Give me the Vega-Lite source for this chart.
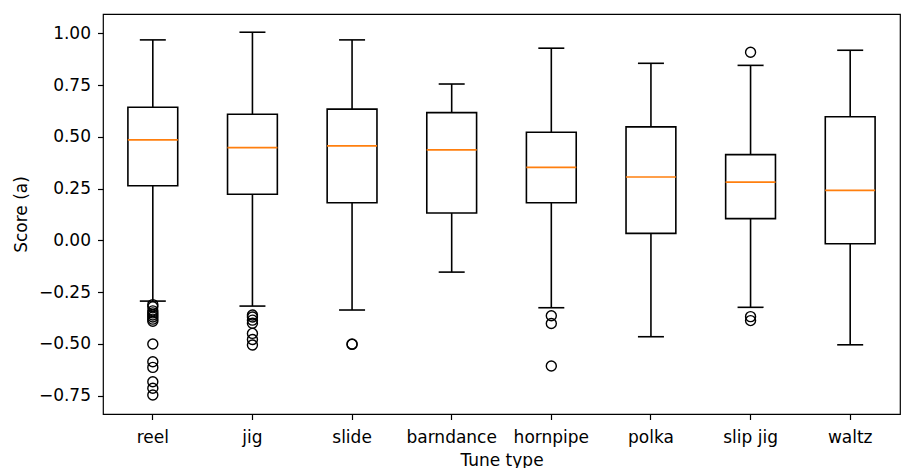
{
  "$schema": "https://vega.github.io/schema/vega-lite/v6.json",
  "width": 797,
  "height": 400,
  "autosize": {"type": "none"},
  "padding": {"left": 103, "top": 14, "right": 1, "bottom": 54},
  "background": "white",
  "config": {
    "font": "DejaVu Sans",
    "view": {"stroke": "black", "strokeWidth": 1.2},
    "axis": {
      "domain": false,
      "grid": false,
      "tickColor": "black",
      "tickSize": 5.5,
      "tickWidth": 1.2,
      "labelColor": "black",
      "labelFont": "DejaVu Sans",
      "labelFontSize": 17,
      "titleColor": "black",
      "titleFont": "DejaVu Sans",
      "titleFontSize": 17,
      "titleFontWeight": "normal"
    }
  },
  "datasets": {
    "summary": [
      {"type": "reel", "lower": -0.293, "q1": 0.264, "median": 0.485, "q3": 0.643, "upper": 0.968},
      {"type": "jig", "lower": -0.317, "q1": 0.223, "median": 0.448, "q3": 0.609, "upper": 1.005},
      {"type": "slide", "lower": -0.336, "q1": 0.182, "median": 0.456, "q3": 0.634, "upper": 0.968},
      {"type": "barndance", "lower": -0.153, "q1": 0.132, "median": 0.437, "q3": 0.617, "upper": 0.755},
      {"type": "hornpipe", "lower": -0.325, "q1": 0.182, "median": 0.353, "q3": 0.522, "upper": 0.928},
      {"type": "polka", "lower": -0.465, "q1": 0.034, "median": 0.306, "q3": 0.548, "upper": 0.855},
      {"type": "slip jig", "lower": -0.323, "q1": 0.105, "median": 0.281, "q3": 0.414, "upper": 0.845},
      {"type": "waltz", "lower": -0.504, "q1": -0.016, "median": 0.242, "q3": 0.597, "upper": 0.918}
    ],
    "outliers": [
      {"type": "reel", "score": -0.31},
      {"type": "reel", "score": -0.32},
      {"type": "reel", "score": -0.34},
      {"type": "reel", "score": -0.35},
      {"type": "reel", "score": -0.36},
      {"type": "reel", "score": -0.37},
      {"type": "reel", "score": -0.38},
      {"type": "reel", "score": -0.39},
      {"type": "reel", "score": -0.50},
      {"type": "reel", "score": -0.586},
      {"type": "reel", "score": -0.613},
      {"type": "reel", "score": -0.682},
      {"type": "reel", "score": -0.714},
      {"type": "reel", "score": -0.746},
      {"type": "jig", "score": -0.36},
      {"type": "jig", "score": -0.37},
      {"type": "jig", "score": -0.385},
      {"type": "jig", "score": -0.40},
      {"type": "jig", "score": -0.449},
      {"type": "jig", "score": -0.478},
      {"type": "jig", "score": -0.505},
      {"type": "slide", "score": -0.50},
      {"type": "slide", "score": -0.502},
      {"type": "hornpipe", "score": -0.364},
      {"type": "hornpipe", "score": -0.401},
      {"type": "hornpipe", "score": -0.606},
      {"type": "slip jig", "score": 0.908},
      {"type": "slip jig", "score": -0.368},
      {"type": "slip jig", "score": -0.387}
    ]
  },
  "encoding": {
    "x": {
      "field": "type",
      "type": "nominal",
      "sort": ["reel", "jig", "slide", "barndance", "hornpipe", "polka", "slip jig", "waltz"],
      "scale": {"paddingInner": 0, "paddingOuter": 0},
      "title": "Tune type",
      "axis": {
        "labelAngle": 0,
        "labelBaseline": "alphabetic",
        "labelPadding": 23,
        "titleBaseline": "alphabetic",
        "titleY": 51
      }
    }
  },
  "layer": [
    {
      "data": {"name": "summary"},
      "mark": {"type": "rule", "color": "black", "strokeWidth": 1.6},
      "encoding": {
        "y": {
          "field": "lower",
          "type": "quantitative",
          "title": "Score (a)",
          "scale": {"domain": [-0.838, 1.093], "nice": false, "zero": false},
          "axis": {
            "values": [-0.75, -0.5, -0.25, 0, 0.25, 0.5, 0.75, 1],
            "format": ".2f",
            "labelPadding": 7,
            "titleX": -77,
            "titleY": 200,
            "titleAlign": "center",
            "titleBaseline": "alphabetic",
            "titleAngle": 270
          }
        },
        "y2": {"field": "q1"}
      }
    },
    {
      "data": {"name": "summary"},
      "mark": {"type": "rule", "color": "black", "strokeWidth": 1.6},
      "encoding": {
        "y": {"field": "q3", "type": "quantitative", "title": "Score (a)"},
        "y2": {"field": "upper"}
      }
    },
    {
      "data": {"name": "summary"},
      "mark": {"type": "bar", "fill": null, "fillOpacity": 0, "stroke": "black", "strokeWidth": 1.6, "width": {"band": 0.5}},
      "encoding": {
        "y": {"field": "q1", "type": "quantitative", "title": "Score (a)"},
        "y2": {"field": "q3"}
      }
    },
    {
      "data": {"name": "summary"},
      "mark": {"type": "tick", "color": "#ff7f0e", "thickness": 1.7, "size": 50, "opacity": 1},
      "encoding": {
        "y": {"field": "median", "type": "quantitative", "title": "Score (a)"}
      }
    },
    {
      "data": {"name": "summary"},
      "mark": {"type": "tick", "color": "black", "thickness": 1.6, "size": 26, "opacity": 1},
      "encoding": {
        "y": {"field": "lower", "type": "quantitative", "title": "Score (a)"}
      }
    },
    {
      "data": {"name": "summary"},
      "mark": {"type": "tick", "color": "black", "thickness": 1.6, "size": 26, "opacity": 1},
      "encoding": {
        "y": {"field": "upper", "type": "quantitative", "title": "Score (a)"}
      }
    },
    {
      "data": {"name": "outliers"},
      "mark": {"type": "point", "shape": "circle", "filled": false, "stroke": "black", "strokeWidth": 1.4, "size": 100, "opacity": 1},
      "encoding": {
        "y": {"field": "score", "type": "quantitative", "title": "Score (a)"}
      }
    }
  ]
}
